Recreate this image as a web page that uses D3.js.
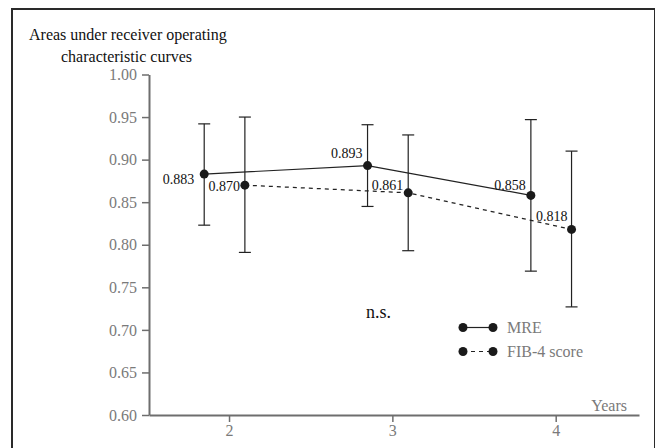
<!DOCTYPE html>
<html>
<head>
<meta charset="utf-8">
<script src="https://cdn.jsdelivr.net/npm/d3@7"></script>
<style>
  html, body { margin: 0; padding: 0; background: #fff; }
  svg { display: block; font-family: "Liberation Serif", "Times New Roman", serif; }
</style>
</head>
<body>
<div id="chart"></div>
<script>
// Areas under ROC curves by follow-up year
const years = [2, 3, 4];
const mreAuc = [0.883, 0.893, 0.858];
const mreLow = [0.823, 0.845, 0.769];
const mreHigh = [0.942, 0.941, 0.947];
const fibAuc = [0.870, 0.861, 0.818];
const fibLow = [0.791, 0.793, 0.727];
const fibHigh = [0.950, 0.929, 0.910];
const yTicks = [0.60, 0.65, 0.70, 0.75, 0.80, 0.85, 0.90, 0.95, 1.00];
const seriesNames = ["MRE", "FIB-4 score"];

const width = 655, height = 448;
const axisGray = "#6e6e6e", textGray = "#7a7a7a";

const svg = d3.select("#chart").append("svg")
    .attr("width", width)
    .attr("height", height);

// outer frame
svg.append("rect")
    .attr("x", 12).attr("y", 9)
    .attr("width", 643).attr("height", 460)
    .attr("fill", "none")
    .attr("stroke", "#2a2a2a")
    .attr("stroke-width", 2);

const x = d3.scaleLinear().domain([1.51, 4.51]).range([149, 639]);
const y = d3.scaleLinear().domain([0.60, 1.00]).range([415, 74.5]);

// y axis
const yAxis = svg.append("g")
    .attr("transform", "translate(149,0)")
    .call(d3.axisLeft(y).tickValues(yTicks).tickFormat(d3.format(".2f")).tickSize(7).tickSizeOuter(0));
yAxis.select(".domain").attr("stroke", axisGray).attr("stroke-width", 2);
yAxis.selectAll(".tick line").attr("stroke", axisGray).attr("stroke-width", 1.5);
yAxis.selectAll(".tick text")
    .attr("x", -12)
    .attr("fill", textGray)
    .style("font-family", "Liberation Serif")
    .style("font-size", "16px");

// x axis
const xAxis = svg.append("g")
    .attr("transform", "translate(0,415)")
    .call(d3.axisBottom(x).tickValues(years).tickFormat(d3.format("d")).tickSize(7).tickSizeOuter(0));
xAxis.select(".domain").attr("stroke", axisGray).attr("stroke-width", 2);
xAxis.selectAll(".tick line").attr("stroke", axisGray).attr("stroke-width", 1.5);
xAxis.selectAll(".tick text")
    .attr("y", 10)
    .attr("fill", textGray)
    .style("font-family", "Liberation Serif")
    .style("font-size", "16px");

svg.append("text")
    .attr("x", 627).attr("y", 411)
    .attr("text-anchor", "end")
    .attr("fill", textGray)
    .style("font-size", "16px")
    .text("Years");

// y title
svg.append("text")
    .attr("x", 29).attr("y", 40)
    .attr("fill", "#111")
    .style("font-size", "16px")
    .text("Areas under receiver operating");
svg.append("text")
    .attr("x", 61).attr("y", 62)
    .attr("fill", "#111")
    .style("font-size", "16px")
    .text("characteristic curves");

// series: MRE shifted left of the tick, FIB-4 to the right
const series = [
    { name: seriesNames[0], auc: mreAuc, low: mreLow, high: mreHigh, shift: -0.152, dash: null,
      labelDx: [-10, -5, -5], labelDy: [10, -8, -5] },
    { name: seriesNames[1], auc: fibAuc, low: fibLow, high: fibHigh, shift: 0.097, dash: "4,4",
      labelDx: [-5, -5, -4], labelDy: [6, -3, -8] }
];

series.forEach(s => {
    const pts = years.map((yr, i) => ({ yr, v: s.auc[i], lo: s.low[i], hi: s.high[i], i }));
    const px = d => x(d.yr + s.shift);

    // error bars
    const eb = svg.append("g").attr("stroke", "#222").attr("stroke-width", 1.2);
    pts.forEach(d => {
        eb.append("line").attr("x1", px(d)).attr("x2", px(d)).attr("y1", y(d.hi)).attr("y2", y(d.lo));
        eb.append("line").attr("x1", px(d) - 6).attr("x2", px(d) + 6).attr("y1", y(d.hi)).attr("y2", y(d.hi));
        eb.append("line").attr("x1", px(d) - 6).attr("x2", px(d) + 6).attr("y1", y(d.lo)).attr("y2", y(d.lo));
    });

    svg.append("path")
        .datum(pts)
        .attr("fill", "none")
        .attr("stroke", "#222")
        .attr("stroke-width", 1.2)
        .attr("stroke-dasharray", s.dash)
        .attr("d", d3.line().x(px).y(d => y(d.v)));

    svg.append("g").selectAll("circle")
        .data(pts).join("circle")
        .attr("cx", px)
        .attr("cy", d => y(d.v))
        .attr("r", 4.5)
        .attr("fill", "#1a1a1a");

    svg.append("g").selectAll("text")
        .data(pts).join("text")
        .attr("x", d => px(d) + s.labelDx[d.i])
        .attr("y", d => y(d.v) + s.labelDy[d.i])
        .attr("text-anchor", "end")
        .attr("fill", "#111")
        .style("font-size", "14px")
        .text(d => d3.format(".3f")(d.v));
});

svg.append("text")
    .attr("x", 366).attr("y", 318)
    .attr("fill", "#111")
    .style("font-size", "18px")
    .text("n.s.");

// legend
const legend = svg.append("g");
series.forEach((s, i) => {
    const ly = 327.5 + i * 24;
    legend.append("line")
        .attr("x1", 463).attr("x2", 493)
        .attr("y1", ly).attr("y2", ly)
        .attr("stroke", "#222")
        .attr("stroke-width", 1.2)
        .attr("stroke-dasharray", s.dash);
    legend.selectAll(null)
        .data([463, 493]).join("circle")
        .attr("cx", d => d).attr("cy", ly).attr("r", 4.5)
        .attr("fill", "#1a1a1a");
    legend.append("text")
        .attr("x", 507).attr("y", ly + 5)
        .attr("fill", textGray)
        .style("font-size", "16px")
        .text(s.name);
});
</script>
</body>
</html>
